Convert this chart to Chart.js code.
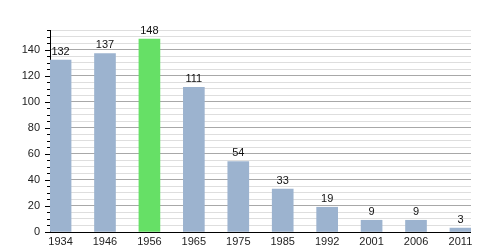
<!DOCTYPE html>
<html>
<head>
<meta charset="utf-8">
<script src="https://cdn.jsdelivr.net/npm/chart.js@4/dist/chart.umd.min.js"></script>
<style>
html,body{margin:0;padding:0;background:#fff;}
#wrap{width:500px;height:250px;position:relative;}
</style>
</head>
<body>
<div id="wrap"><canvas id="c" width="500" height="250"></canvas></div>
<script>
const categories = ["1934","1946","1956","1965","1975","1985","1992","2001","2006","2011"];
const values = [132,137,148,111,54,33,19,9,9,3];
const highlightIndex = 2;
const yMax = 155;
const yStep = 5;
const yLabelStep = 20;

const blue = '#9cb3cf';
const green = '#66e066';
const font = {family: "'Liberation Sans', Arial, sans-serif", size: 11};

const valueLabels = {
  id: 'valueLabels',
  afterDatasetsDraw(chart) {
    const ctx = chart.ctx;
    const meta = chart.getDatasetMeta(0);
    ctx.save();
    ctx.font = "11px 'Liberation Sans', Arial, sans-serif";
    ctx.fillStyle = '#111';
    ctx.textAlign = 'center';
    ctx.textBaseline = 'bottom';
    meta.data.forEach((bar, i) => {
      ctx.fillText(String(values[i]), bar.x, bar.y - 3);
    });
    ctx.restore();
  }
};

const axisLines = {
  id: 'axisLines',
  afterDraw(chart) {
    const ctx = chart.ctx;
    const y = chart.scales.y;
    const x = chart.scales.x;
    ctx.save();
    ctx.strokeStyle = '#000';
    ctx.lineWidth = 1;
    y.ticks.forEach(t => {
      const py = Math.round(y.getPixelForValue(t.value)) + 0.5;
      const len = (t.value % yLabelStep === 0) ? 5 : 3;
      ctx.beginPath();
      ctx.moveTo(y.right - len, py);
      ctx.lineTo(y.right, py);
      ctx.stroke();
    });
    const by = Math.round(y.getPixelForValue(0)) + 0.5;
    ctx.beginPath();
    ctx.moveTo(x.left, by);
    ctx.lineTo(x.right, by);
    ctx.stroke();
    ctx.restore();
  }
};

const half = 0.2376;

new Chart(document.getElementById('c'), {
  type: 'bar',
  data: {
    datasets: [{
      data: values.map((v, i) => ({x: i, y: v})),
      backgroundColor: values.map((v, i) => i === highlightIndex ? green : blue),
      borderWidth: 0,
      barThickness: 21
    }]
  },
  options: {
    responsive: false,
    animation: false,
    events: [],
    layout: {padding: {left: 0, top: 30, right: 29, bottom: 0}},
    plugins: {legend: {display: false}, tooltip: {enabled: false}},
    scales: {
      x: {
        type: 'linear',
        offset: false,
        min: -half,
        max: 9 + half,
        grid: {display: false, drawTicks: false, offset: false},
        border: {display: false},
        afterBuildTicks(scale) {
          scale.ticks = categories.map((c, i) => ({value: i}));
        },
        afterFit(scale) { scale.height = 18; },
        ticks: {
          stepSize: 1,
          autoSkip: false,
          maxRotation: 0,
          includeBounds: false,
          padding: 3,
          color: '#222',
          font: font,
          callback: (v) => categories[v] !== undefined ? categories[v] : ''
        }
      },
      y: {
        type: 'linear',
        min: 0,
        max: yMax,
        afterFit(scale) { scale.width = 50; },
        border: {display: true, color: '#000', width: 1},
        grid: {
          drawTicks: false,
          color: (ctx) => {
            if (!ctx.tick) return '#dedede';
            if (ctx.tick.value === 0) return 'rgba(0,0,0,0)';
            return ctx.tick.value % yLabelStep === 0 ? '#a8a8a8' : '#dedede';
          },
          lineWidth: 1
        },
        ticks: {
          stepSize: yStep,
          autoSkip: false,
          padding: 10,
          color: '#222',
          font: font,
          callback: (v) => (v % yLabelStep === 0) ? String(v) : ''
        }
      }
    }
  },
  plugins: [valueLabels, axisLines]
});
</script>
</body>
</html>
